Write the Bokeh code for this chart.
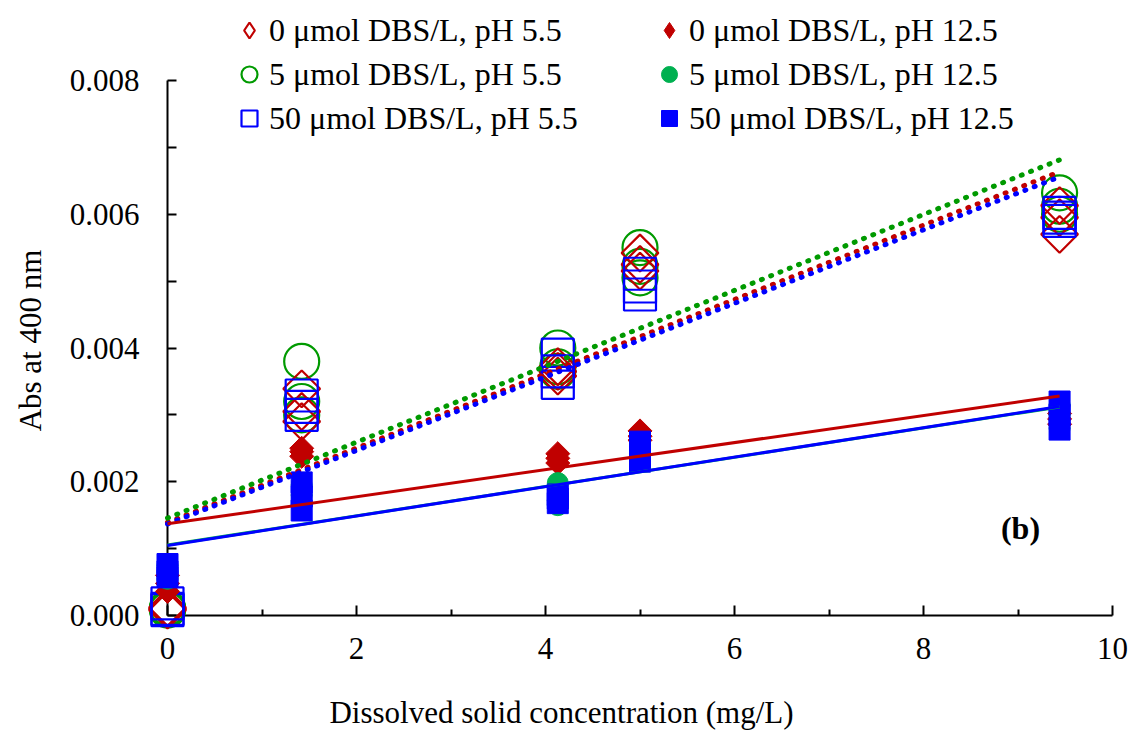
import numpy as np
from bokeh.plotting import figure
from bokeh.models import (Range1d, FixedTicker, NumeralTickFormatter, Legend,
                          LegendItem, Label)
from bokeh.embed import file_html
from bokeh.resources import INLINE

# Dissolved solid concentration (mg/L)
conc = [0.0, 1.42, 4.13, 5.0, 9.44]

# Absorbance at 400 nm, three replicates per concentration
abs_0_ph55 = [[0.00010, 0.00012, 0.00008],
              [0.00339, 0.00305, 0.00290],
              [0.00372, 0.00365, 0.00358],
              [0.00542, 0.00525, 0.00515],
              [0.00613, 0.00595, 0.00570]]
abs_5_ph55 = [[0.00012, 0.00010, 0.00008],
              [0.00380, 0.00320, 0.00300],
              [0.00400, 0.00372, 0.00365],
              [0.00550, 0.00522, 0.00505],
              [0.00632, 0.00612, 0.00600]]
abs_50_ph55 = [[0.00018, 0.00010, 0.00008],
               [0.00329, 0.00312, 0.00300],
               [0.00390, 0.00365, 0.00348],
               [0.00511, 0.00492, 0.00480],
               [0.00602, 0.00595, 0.00590]]
abs_0_ph125 = [[0.00060, 0.00048, 0.00036],
               [0.00250, 0.00245, 0.00238],
               [0.00242, 0.00235, 0.00228],
               [0.00276, 0.00268, 0.00262],
               [0.00302, 0.00294, 0.00286]]
abs_5_ph125 = [[0.00075, 0.00065, 0.00055],
               [0.00195, 0.00180, 0.00165],
               [0.00198, 0.00172, 0.00165],
               [0.00255, 0.00242, 0.00230],
               [0.00315, 0.00300, 0.00280]]
abs_50_ph125 = [[0.00077, 0.00066, 0.00057],
                [0.00199, 0.00178, 0.00157],
                [0.00181, 0.00175, 0.00168],
                [0.00260, 0.00245, 0.00230],
                [0.00320, 0.00300, 0.00278]]

labels = ["0 \u03bcmol DBS/L, pH 5.5", "0 \u03bcmol DBS/L, pH 12.5",
          "5 \u03bcmol DBS/L, pH 5.5", "5 \u03bcmol DBS/L, pH 12.5",
          "50 \u03bcmol DBS/L, pH 5.5", "50 \u03bcmol DBS/L, pH 12.5"]

x_ticks = [0, 2, 4, 6, 8, 10]
x_minor = [1, 3, 5, 7, 9]
y_ticks = [0.0, 0.002, 0.004, 0.006, 0.008]
y_minor = [0.001, 0.003, 0.005, 0.007]

FONT = "Liberation Serif"
RED = "#C00000"
GREEN_OPEN = "#009A00"
GREEN_FILL = "#00B050"
BLUE = "#0000FF"

W, H = 1134, 731
# pixel placement of the axis box inside the canvas
AX_LEFT, AX_RIGHT, AX_TOP, AX_BOTTOM = 167, 1112, 80, 615
X0, X1, Y0, Y1 = 0.0, 10.0, 0.0, 0.008
px_x = (AX_RIGHT - AX_LEFT) / (X1 - X0)
px_y = (AX_BOTTOM - AX_TOP) / (Y1 - Y0)


def flatten(reps):
    xs, ys = [], []
    for c, vals in zip(conc, reps):
        for v in vals:
            xs.append(c)
            ys.append(v)
    return np.array(xs), np.array(ys)


# the frame fills the whole canvas; the axes sit at the origin inside it
p = figure(width=W, height=H, title=None,
           x_range=Range1d(X0 - AX_LEFT / px_x, X1 + (W - AX_RIGHT) / px_x),
           y_range=Range1d(Y0 - (H - AX_BOTTOM) / px_y, Y1 + AX_TOP / px_y),
           output_backend="svg", toolbar_location=None,
           min_border_left=0, min_border_right=0,
           min_border_top=0, min_border_bottom=0)
p.background_fill_color = "white"
p.border_fill_color = "white"
p.outline_line_color = None
p.xgrid.visible = False
p.ygrid.visible = False

for ax in (p.xaxis[0], p.yaxis[0]):
    ax.fixed_location = 0
    ax.level = "underlay"
    ax.axis_line_color = "black"
    ax.axis_line_width = 2
    ax.major_tick_line_width = 2
    ax.minor_tick_line_width = 2
    ax.major_tick_line_color = "black"
    ax.minor_tick_line_color = "black"
    ax.major_tick_out = 0
    ax.minor_tick_out = 0
    ax.major_label_text_font = FONT
    ax.major_label_text_font_size = "31px"
    ax.major_label_text_color = "black"

p.xaxis.bounds = (X0, X1)
p.xaxis.ticker = FixedTicker(ticks=x_ticks, minor_ticks=x_minor)
p.xaxis.major_tick_in = 10
p.xaxis.minor_tick_in = 6
p.xaxis.major_label_standoff = 22

p.yaxis.bounds = (Y0, Y1)
p.yaxis.ticker = FixedTicker(ticks=y_ticks, minor_ticks=y_minor)
p.yaxis.formatter = NumeralTickFormatter(format="0.000")
p.yaxis.major_tick_in = 9
p.yaxis.minor_tick_in = 9
p.yaxis.major_label_standoff = 28

# markers
open_circle = dict(marker="circle", size=35, fill_color=None,
                   line_color=GREEN_OPEN, line_width=2.2)
open_diamond = dict(fill_color=None, line_color=RED, line_width=2.2)
open_square = dict(marker="square", size=32, fill_color=None,
                   line_color=BLUE, line_width=2.2)
solid_diamond = dict(fill_color=RED, line_color=RED, line_width=1)
solid_circle = dict(marker="circle", size=21, fill_color=GREEN_FILL,
                    line_color=GREEN_FILL, line_width=1)
solid_square = dict(marker="square", size=21, fill_color=BLUE,
                    line_color=BLUE, line_width=1)

x, y = flatten(abs_5_ph55)
r_c55 = p.scatter(x, y, **open_circle)
x, y = flatten(abs_0_ph55)
p.scatter(x, y, marker="square", angle=np.pi / 4, size=26, **open_diamond)
# legend keys for the diamond series (not drawn in the plot area)
r_d55 = p.scatter(x, y, marker="diamond", size=26, visible=False,
                  **open_diamond)
x, y = flatten(abs_50_ph55)
r_s55 = p.scatter(x, y, **open_square)
x, y = flatten(abs_0_ph125)
p.scatter(x, y, marker="square", angle=np.pi / 4, size=17, **solid_diamond)
r_d125 = p.scatter(x, y, marker="diamond", size=17, visible=False,
                   **solid_diamond)
x, y = flatten(abs_5_ph125)
r_c125 = p.scatter(x, y, **solid_circle)
x, y = flatten(abs_50_ph125)
r_s125 = p.scatter(x, y, **solid_square)

# linear trendlines
x_end = np.array([0.0, max(conc)])


def trend(reps):
    xs, ys = flatten(reps)
    slope, icpt = np.polyfit(xs, ys, 1)
    return icpt + slope * x_end


dotted = dict(line_width=5, line_dash="1 9", line_cap="round")
p.line(x_end, trend(abs_0_ph55), line_color=RED, **dotted)
p.line(x_end, trend(abs_5_ph55), line_color=GREEN_OPEN, **dotted)
p.line(x_end, trend(abs_50_ph55), line_color=BLUE, **dotted)
p.line(x_end, trend(abs_5_ph125), line_color=GREEN_FILL, line_width=3)
p.line(x_end, trend(abs_0_ph125), line_color=RED, line_width=3)
p.line(x_end, trend(abs_50_ph125), line_color=BLUE, line_width=3)

legend_style = dict(border_line_color=None, background_fill_alpha=0,
                    label_text_font=FONT, label_text_font_size="32px",
                    label_text_color="black",
                    glyph_width=40, glyph_height=44, label_standoff=0,
                    spacing=0, padding=0, margin=0)
leg_left = Legend(items=[LegendItem(label=labels[0], renderers=[r_d55]),
                         LegendItem(label=labels[2], renderers=[r_c55]),
                         LegendItem(label=labels[4], renderers=[r_s55])],
                  location=(229, H - 140), **legend_style)
leg_right = Legend(items=[LegendItem(label=labels[1], renderers=[r_d125]),
                          LegendItem(label=labels[3], renderers=[r_c125]),
                          LegendItem(label=labels[5], renderers=[r_s125])],
                   location=(649, H - 140), **legend_style)
p.add_layout(leg_left)
p.add_layout(leg_right)

# axis titles and panel tag
p.add_layout(Label(x=30, y=H - 340, x_units="screen", y_units="screen",
                   text="Abs at 400 nm", angle=np.pi / 2,
                   text_align="center", text_baseline="middle",
                   text_font=FONT, text_font_size="31px",
                   text_color="black"))
p.add_layout(Label(x=561, y=H - 712, x_units="screen", y_units="screen",
                   text="Dissolved solid concentration (mg/L)",
                   text_align="center", text_baseline="middle",
                   text_font=FONT, text_font_size="31px",
                   text_color="black"))
p.add_layout(Label(x=1020, y=H - 527, x_units="screen", y_units="screen",
                   text="(b)", text_align="center", text_baseline="middle",
                   text_font=FONT, text_font_size="32px",
                   text_font_style="bold", text_color="black"))

open("out.html", "w").write(file_html(p, INLINE))
